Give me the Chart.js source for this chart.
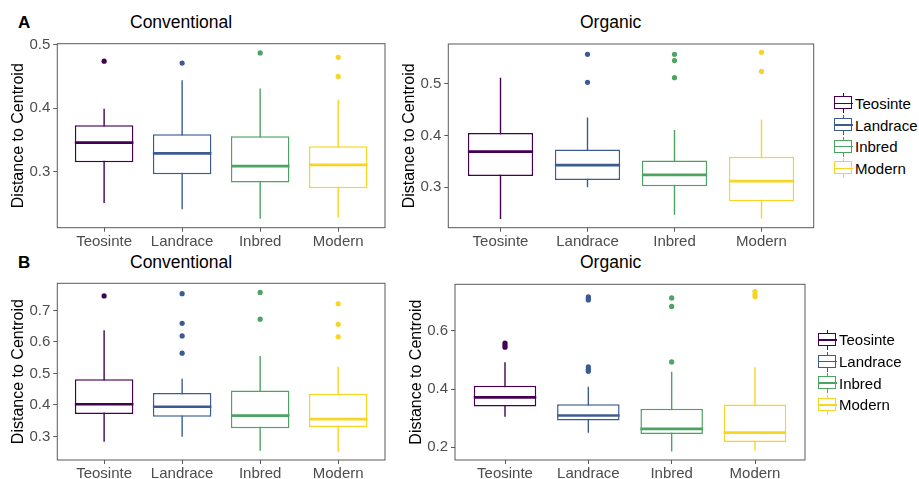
<!DOCTYPE html>
<html>
<head>
<meta charset="utf-8">
<script src="https://cdn.jsdelivr.net/npm/chart.js@4.4.1/dist/chart.umd.min.js"></script>
<style>
  body { margin: 0; background: #fff; font-family: Arial, "Liberation Sans", sans-serif; }
  #fig { position: relative; width: 919px; height: 479px; overflow: hidden; background: #fff; }
  .t { position: absolute; font-size: 17.5px; line-height: 20px; color: #000; white-space: nowrap; }
  .b { font-weight: bold; font-size: 17px; }
  canvas { position: absolute; }
  .leg { position: absolute; font-size: 15px; color: #000; }
  .row { display: flex; align-items: center; height: 21.7px; }
  .key { position: relative; width: 19px; height: 21px; margin-right: 2px; }
  .key .wh { position: absolute; left: 8.75px; top: 0.5px; width: 1.5px; height: 20px; }
  .key .bx { position: absolute; left: 0; top: 3.5px; width: 16px; height: 11px; border: 1.5px solid; background: #fff; }
  .key .md { position: absolute; left: 0; top: 9.75px; width: 19px; height: 1.5px; }
</style>
</head>
<body>
<div id="fig">
  <div class="t b" style="left:18px;top:12.5px">A</div>
  <div class="t" style="left:130px;top:12.4px">Conventional</div>
  <div class="t" style="left:580px;top:12.4px">Organic</div>
  <div class="t b" style="left:18px;top:252.5px">B</div>
  <div class="t" style="left:130px;top:252.4px">Conventional</div>
  <div class="t" style="left:580px;top:252.4px">Organic</div>

  <canvas id="aConv" width="395" height="230" style="left:0;top:30px"></canvas>
  <canvas id="aOrg" width="420" height="230" style="left:400px;top:30px"></canvas>
  <canvas id="bConv" width="395" height="209" style="left:0;top:270px"></canvas>
  <canvas id="bOrg" width="420" height="209" style="left:400px;top:270px"></canvas>

  <div class="leg" id="legA" style="left:834px;top:92.5px"></div>
  <div class="leg" id="legB" style="left:818px;top:329px"></div>
</div>

<script>
const groups = ["Teosinte", "Landrace", "Inbred", "Modern"];
const colors = ["#440154", "#3B5B92", "#4DA362", "#F9D423"];

// A - Conventional
const aConvLow = [0.251, 0.241, 0.226, 0.228];
const aConvQ1 = [0.315, 0.296, 0.283, 0.274];
const aConvMed = [0.346, 0.329, 0.309, 0.311];
const aConvQ3 = [0.373, 0.359, 0.356, 0.340];
const aConvHigh = [0.399, 0.444, 0.431, 0.413];
const aConvOut = [[0.474], [0.471], [0.487], [0.480, 0.450]];

// A - Organic
const aOrgLow = [0.239, 0.300, 0.247, 0.240];
const aOrgQ1 = [0.322, 0.314, 0.302, 0.273];
const aOrgMed = [0.369, 0.343, 0.324, 0.312];
const aOrgQ3 = [0.405, 0.373, 0.352, 0.359];
const aOrgHigh = [0.512, 0.435, 0.411, 0.431];
const aOrgOut = [[], [0.557, 0.503], [0.557, 0.545, 0.512], [0.561, 0.524]];

// B - Conventional
const bConvLow = [0.283, 0.299, 0.254, 0.251];
const bConvQ1 = [0.371, 0.362, 0.326, 0.330];
const bConvMed = [0.402, 0.394, 0.366, 0.355];
const bConvQ3 = [0.481, 0.438, 0.446, 0.435];
const bConvHigh = [0.637, 0.483, 0.555, 0.521];
const bConvOut = [[0.746], [0.753, 0.659, 0.619, 0.564], [0.757, 0.672], [0.721, 0.656, 0.616]];

// B - Organic
const bOrgLow = [0.305, 0.250, 0.185, 0.188];
const bOrgQ1 = [0.340, 0.292, 0.245, 0.218];
const bOrgMed = [0.371, 0.309, 0.263, 0.250];
const bOrgQ3 = [0.411, 0.348, 0.332, 0.347];
const bOrgHigh = [0.492, 0.408, 0.459, 0.475];
const bOrgOut = [[0.558, 0.551, 0.544], [0.717, 0.712, 0.706, 0.476, 0.468, 0.461], [0.713, 0.684, 0.493], [0.735, 0.725, 0.717]];

const aConvTicks = [0.3, 0.4, 0.5];
const aOrgTicks = [0.3, 0.4, 0.5];
const bConvTicks = [0.3, 0.4, 0.5, 0.6, 0.7];
const bOrgTicks = [0.2, 0.4, 0.6];

const frame = {
  id: "frame",
  afterDatasetsDraw(chart) {
    const a = chart.chartArea;
    const c = chart.ctx;
    c.save();
    c.strokeStyle = "#595959";
    c.lineWidth = 1;
    c.strokeRect(a.left, a.top, a.right - a.left, a.bottom - a.top);
    c.restore();
  }
};

function boxplot(id, low, q1, med, q3, high, out, yMin, yMax, yTicks, lay) {
  const datasets = [];
  groups.forEach((g, i) => {
    // whisker from low to high, box drawn over it
    datasets.push({
      type: "line",
      data: [{ x: i + 1, y: low[i] }, { x: i + 1, y: high[i] }],
      borderColor: colors[i],
      borderWidth: 1.4,
      pointRadius: 0,
      order: 3
    });
    // median
    datasets.push({
      type: "line",
      data: [{ x: i + 0.625, y: med[i] }, { x: i + 1.375, y: med[i] }],
      borderColor: colors[i],
      borderWidth: 2.7,
      pointRadius: 0,
      order: 1
    });
  });
  datasets.push({
    type: "bar",
    data: groups.map((g, i) => ({ x: i + 1, y: [q1[i], q3[i]] })),
    backgroundColor: "#fff",
    borderColor: colors,
    borderWidth: 1.5,
    borderSkipped: false,
    barPercentage: 0.75,
    categoryPercentage: 1,
    grouped: false,
    order: 2
  });
  const pts = [];
  const ptColors = [];
  out.forEach((o, i) => {
    o.forEach(v => {
      pts.push({ x: i + 1, y: v });
      ptColors.push(colors[i]);
    });
  });
  datasets.push({
    type: "scatter",
    data: pts,
    pointBackgroundColor: ptColors,
    pointBorderWidth: 0,
    pointRadius: 2.6,
    order: 0
  });

  const tickFont = { family: "Arial, 'Liberation Sans', sans-serif", size: 15 };
  new Chart(document.getElementById(id), {
    type: "bar",
    data: { datasets: datasets },
    options: {
      responsive: false,
      animation: false,
      events: [],
      layout: { padding: { left: 0, top: lay.top, right: lay.right, bottom: 0 } },
      plugins: { legend: { display: false }, tooltip: { enabled: false } },
      scales: {
        x: {
          type: "linear",
          min: 0.4,
          max: 4.6,
          offset: false,
          afterBuildTicks: s => { s.ticks = groups.map((g, i) => ({ value: i + 1 })); },
          afterFit: s => { s.height = lay.xh; },
          ticks: {
            callback: v => groups[Math.round(v) - 1],
            color: "#4d4d4d",
            font: tickFont,
            padding: 1,
            maxRotation: 0,
            autoSkip: false
          },
          grid: { display: true, drawOnChartArea: false, tickLength: 4, color: "#595959", offset: false },
          border: { display: false }
        },
        y: {
          type: "linear",
          min: yMin,
          max: yMax,
          afterBuildTicks: s => { s.ticks = yTicks.map(v => ({ value: v })); },
          afterFit: s => { s.width = lay.yw; },
          ticks: {
            callback: v => v.toFixed(1),
            color: "#4d4d4d",
            font: tickFont,
            padding: 3
          },
          grid: { display: true, drawOnChartArea: false, tickLength: 4, color: "#595959" },
          border: { display: false },
          title: {
            display: true,
            text: "Distance to Centroid",
            color: "#000",
            font: { family: "Arial, 'Liberation Sans', sans-serif", size: 16 },
            padding: { top: lay.tp, bottom: 0 }
          }
        }
      }
    },
    plugins: [frame]
  });
}

boxplot("aConv", aConvLow, aConvQ1, aConvMed, aConvQ3, aConvHigh, aConvOut, 0.212, 0.5015, aConvTicks,
  { top: 13.7, right: 10, xh: 32.3, yw: 57.3, tp: 8.7 });
boxplot("aOrg", aOrgLow, aOrgQ1, aOrgMed, aOrgQ3, aOrgHigh, aOrgOut, 0.222, 0.577, aOrgTicks,
  { top: 14, right: 6.3, xh: 32.3, yw: 48.3, tp: 0 });
boxplot("bConv", bConvLow, bConvQ1, bConvMed, bConvQ3, bConvHigh, bConvOut, 0.225, 0.786, bConvTicks,
  { top: 13.3, right: 10, xh: 19, yw: 57.3, tp: 8.7 });
boxplot("bOrg", bOrgLow, bOrgQ1, bOrgMed, bOrgQ3, bOrgHigh, bOrgOut, 0.156, 0.760, bOrgTicks,
  { top: 14.3, right: 15, xh: 19, yw: 55, tp: 7.1 });

function legend(id) {
  const el = document.getElementById(id);
  groups.forEach((g, i) => {
    const row = document.createElement("div");
    row.className = "row";
    row.innerHTML =
      '<div class="key"><div class="wh" style="background:' + colors[i] + '"></div>' +
      '<div class="bx" style="border-color:' + colors[i] + '"></div>' +
      '<div class="md" style="background:' + colors[i] + '"></div></div>' +
      "<span>" + g + "</span>";
    el.appendChild(row);
  });
}
legend("legA");
legend("legB");
</script>
</body>
</html>
